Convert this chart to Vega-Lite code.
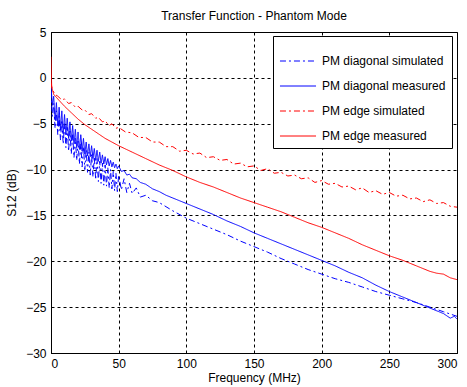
{
  "$schema": "https://vega.github.io/schema/vega-lite/v6.json",
  "width": 406,
  "height": 321,
  "autosize": {"type": "none"},
  "padding": {"left": 51, "top": 32, "right": 10, "bottom": 34},
  "background": "white",
  "title": {"text": "Transfer Function - Phantom Mode", "fontSize": 12, "fontWeight": "normal", "font": "Liberation Sans", "color": "black", "offset": 3, "anchor": "middle"},
  "datasets": {
    "dsim": [
      {"f":0,"v":-1.5},{"f":1,"v":-4.2},{"f":2,"v":-2.8},{"f":3,"v":-5.5},{"f":4,"v":-3.6},{"f":5,"v":-6.2},{"f":6,"v":-4.2},{"f":7,"v":-6.8},{"f":8,"v":-4.6},{"f":9,"v":-7.2},{"f":10,"v":-5.0},{"f":11,"v":-7.6},{"f":12,"v":-5.4},{"f":13,"v":-8.0},{"f":14,"v":-5.8},{"f":15,"v":-8.3},{"f":16,"v":-6.2},{"f":17,"v":-8.7},{"f":18,"v":-6.6},{"f":19,"v":-9.0},{"f":20,"v":-6.9},{"f":21,"v":-9.4},{"f":22,"v":-7.2},{"f":23,"v":-9.7},{"f":24,"v":-7.5},{"f":25,"v":-10.0},{"f":26,"v":-7.8},{"f":27,"v":-10.3},{"f":28,"v":-8.1},{"f":29,"v":-10.6},{"f":30,"v":-8.3},{"f":31,"v":-10.8},{"f":32,"v":-8.6},{"f":33,"v":-11.1},{"f":34,"v":-8.8},{"f":35,"v":-11.3},{"f":36,"v":-9.1},{"f":37,"v":-11.5},{"f":38,"v":-9.3},{"f":39,"v":-11.7},{"f":40,"v":-9.5},{"f":41,"v":-11.8},{"f":42,"v":-9.8},{"f":43,"v":-12.0},{"f":44,"v":-10.0},{"f":45,"v":-12.1},{"f":46,"v":-10.2},{"f":47,"v":-12.3},{"f":48,"v":-10.4},{"f":49,"v":-12.4},{"f":50,"v":-10.6},{"f":52,"v":-12.2},{"f":54,"v":-11.0},{"f":56,"v":-12.5},{"f":58,"v":-11.5},{"f":60,"v":-12.6},{"f":63,"v":-12.0},{"f":66,"v":-13.0},{"f":70,"v":-12.8},{"f":75,"v":-13.4},{"f":80,"v":-13.6},{"f":90,"v":-14.5},{"f":100,"v":-15.3},{"f":110,"v":-15.9},{"f":120,"v":-16.5},{"f":130,"v":-17.1},{"f":140,"v":-17.8},{"f":150,"v":-18.4},{"f":160,"v":-19.0},{"f":170,"v":-19.7},{"f":180,"v":-20.3},{"f":190,"v":-20.9},{"f":200,"v":-21.4},{"f":210,"v":-21.9},{"f":220,"v":-22.3},{"f":230,"v":-22.8},{"f":240,"v":-23.3},{"f":250,"v":-23.7},{"f":260,"v":-24.1},{"f":270,"v":-24.5},{"f":280,"v":-25.0},{"f":290,"v":-25.5},{"f":300,"v":-26.0}
    ],
    "dmeas": [
      {"f":0,"v":-0.8},{"f":1,"v":-3.0},{"f":2,"v":-2.0},{"f":3,"v":-4.6},{"f":4,"v":-2.7},{"f":5,"v":-5.2},{"f":6,"v":-3.2},{"f":7,"v":-5.7},{"f":8,"v":-3.6},{"f":9,"v":-6.1},{"f":10,"v":-4.0},{"f":11,"v":-6.2},{"f":12,"v":-4.4},{"f":13,"v":-6.6},{"f":14,"v":-4.8},{"f":15,"v":-6.9},{"f":16,"v":-5.2},{"f":17,"v":-7.2},{"f":18,"v":-5.6},{"f":19,"v":-7.6},{"f":20,"v":-5.9},{"f":21,"v":-7.8},{"f":22,"v":-6.2},{"f":23,"v":-8.0},{"f":24,"v":-6.6},{"f":25,"v":-8.3},{"f":26,"v":-7.0},{"f":27,"v":-8.5},{"f":28,"v":-7.2},{"f":29,"v":-8.6},{"f":30,"v":-7.4},{"f":31,"v":-8.8},{"f":32,"v":-7.7},{"f":33,"v":-9.0},{"f":34,"v":-7.9},{"f":35,"v":-9.1},{"f":36,"v":-8.1},{"f":37,"v":-9.3},{"f":38,"v":-8.4},{"f":39,"v":-9.4},{"f":40,"v":-8.6},{"f":41,"v":-9.5},{"f":42,"v":-8.8},{"f":43,"v":-9.6},{"f":44,"v":-9.0},{"f":45,"v":-9.7},{"f":46,"v":-9.2},{"f":47,"v":-9.8},{"f":48,"v":-9.4},{"f":49,"v":-9.9},{"f":50,"v":-9.6},{"f":52,"v":-10.2},{"f":54,"v":-10.1},{"f":56,"v":-10.6},{"f":58,"v":-10.5},{"f":60,"v":-10.9},{"f":63,"v":-11.0},{"f":66,"v":-11.4},{"f":70,"v":-11.6},{"f":75,"v":-12.1},{"f":80,"v":-12.4},{"f":85,"v":-12.8},{"f":90,"v":-13.1},{"f":95,"v":-13.4},{"f":100,"v":-13.7},{"f":110,"v":-14.3},{"f":120,"v":-14.9},{"f":130,"v":-15.6},{"f":140,"v":-16.2},{"f":150,"v":-16.9},{"f":160,"v":-17.5},{"f":170,"v":-18.1},{"f":180,"v":-18.7},{"f":190,"v":-19.3},{"f":200,"v":-19.9},{"f":210,"v":-20.5},{"f":220,"v":-21.2},{"f":230,"v":-21.8},{"f":240,"v":-22.6},{"f":250,"v":-23.3},{"f":260,"v":-23.9},{"f":270,"v":-24.5},{"f":280,"v":-25.1},{"f":290,"v":-25.7},{"f":295,"v":-26.2},{"f":298,"v":-26.0},{"f":300,"v":-26.3}
    ],
    "esim": [
      {"f":0,"v":-0.5},{"f":1,"v":-1.3},{"f":3,"v":-1.8},{"f":5,"v":-2.0},{"f":8,"v":-2.4},{"f":10,"v":-2.3},{"f":13,"v":-2.8},{"f":15,"v":-2.7},{"f":18,"v":-3.2},{"f":20,"v":-3.1},{"f":23,"v":-3.5},{"f":25,"v":-3.5},{"f":28,"v":-4.0},{"f":30,"v":-3.9},{"f":33,"v":-4.4},{"f":35,"v":-4.3},{"f":38,"v":-4.8},{"f":40,"v":-4.7},{"f":43,"v":-5.2},{"f":45,"v":-5.0},{"f":48,"v":-5.5},{"f":50,"v":-5.4},{"f":55,"v":-5.9},{"f":60,"v":-6.0},{"f":65,"v":-6.5},{"f":70,"v":-6.5},{"f":75,"v":-7.0},{"f":80,"v":-7.0},{"f":85,"v":-7.5},{"f":90,"v":-7.5},{"f":95,"v":-8.0},{"f":100,"v":-7.9},{"f":105,"v":-8.3},{"f":110,"v":-8.2},{"f":115,"v":-8.7},{"f":120,"v":-8.6},{"f":125,"v":-9.0},{"f":130,"v":-8.9},{"f":135,"v":-9.4},{"f":140,"v":-9.3},{"f":145,"v":-9.7},{"f":150,"v":-9.6},{"f":155,"v":-10.1},{"f":160,"v":-9.9},{"f":165,"v":-10.4},{"f":170,"v":-10.3},{"f":175,"v":-10.7},{"f":180,"v":-10.6},{"f":185,"v":-11.0},{"f":190,"v":-10.9},{"f":195,"v":-11.4},{"f":200,"v":-11.2},{"f":205,"v":-11.6},{"f":210,"v":-11.5},{"f":215,"v":-11.9},{"f":220,"v":-11.8},{"f":225,"v":-12.2},{"f":230,"v":-12.0},{"f":235,"v":-12.5},{"f":240,"v":-12.3},{"f":245,"v":-12.7},{"f":250,"v":-12.5},{"f":255,"v":-12.9},{"f":260,"v":-12.8},{"f":265,"v":-13.2},{"f":270,"v":-13.1},{"f":275,"v":-13.5},{"f":280,"v":-13.3},{"f":285,"v":-13.7},{"f":290,"v":-13.6},{"f":295,"v":-14.0},{"f":300,"v":-14.1}
    ],
    "emeas": [
      {"f":0,"v":2.3},{"f":0.5,"v":-1.0},{"f":2,"v":-1.8},{"f":5,"v":-2.3},{"f":10,"v":-3.1},{"f":15,"v":-3.8},{"f":20,"v":-4.5},{"f":25,"v":-5.1},{"f":30,"v":-5.6},{"f":35,"v":-6.1},{"f":40,"v":-6.6},{"f":45,"v":-7.0},{"f":50,"v":-7.4},{"f":60,"v":-8.1},{"f":70,"v":-8.8},{"f":80,"v":-9.5},{"f":90,"v":-10.1},{"f":100,"v":-10.8},{"f":110,"v":-11.4},{"f":120,"v":-11.9},{"f":130,"v":-12.5},{"f":140,"v":-13.1},{"f":150,"v":-13.6},{"f":160,"v":-14.1},{"f":170,"v":-14.6},{"f":180,"v":-15.2},{"f":190,"v":-15.8},{"f":200,"v":-16.3},{"f":210,"v":-16.9},{"f":220,"v":-17.5},{"f":230,"v":-18.2},{"f":240,"v":-18.8},{"f":250,"v":-19.4},{"f":260,"v":-19.9},{"f":270,"v":-20.5},{"f":280,"v":-21.1},{"f":285,"v":-21.3},{"f":290,"v":-21.4},{"f":295,"v":-21.8},{"f":300,"v":-22.0}
    ]
  },
  "encoding": {
    "x": {"field": "f", "type": "quantitative", "scale": {"domain": [0, 300], "nice": false}, "axis": {"title": "Frequency (MHz)", "values": [0, 50, 100, 150, 200, 250, 300], "grid": true, "gridDash": [3, 3], "gridColor": "black", "gridOpacity": 1, "ticks": false, "labelPadding": 5, "titlePadding": 3}},
    "y": {"field": "v", "type": "quantitative", "scale": {"domain": [-30, 5], "nice": false}, "axis": {"title": "S12 (dB)", "values": [-30, -25, -20, -15, -10, -5, 0, 5], "grid": true, "gridDash": [3, 3], "gridColor": "black", "gridOpacity": 1, "ticks": false, "labelPadding": 5, "titlePadding": 7}},
    "color": {"type": "nominal", "scale": {"domain": ["PM diagonal simulated", "PM diagonal measured", "PM edge simulated", "PM edge measured"], "range": ["#0000ff", "#0000ff", "#ff0000", "#ff0000"]}, "legend": {"title": null}},
    "strokeDash": {"type": "nominal", "scale": {"domain": ["PM diagonal simulated", "PM diagonal measured", "PM edge simulated", "PM edge measured"], "range": [[6, 3, 2, 3], [1, 0], [6, 3, 2, 3], [1, 0]]}, "legend": {"title": null}}
  },
  "layer": [
    {"data": {"name": "dsim"}, "mark": {"type": "line", "strokeWidth": 1, "clip": true}, "encoding": {"color": {"datum": "PM diagonal simulated"}, "strokeDash": {"datum": "PM diagonal simulated"}}},
    {"data": {"name": "dmeas"}, "mark": {"type": "line", "strokeWidth": 1, "clip": true}, "encoding": {"color": {"datum": "PM diagonal measured"}, "strokeDash": {"datum": "PM diagonal measured"}}},
    {"data": {"name": "esim"}, "mark": {"type": "line", "strokeWidth": 1, "clip": true}, "encoding": {"color": {"datum": "PM edge simulated"}, "strokeDash": {"datum": "PM edge simulated"}}},
    {"data": {"name": "emeas"}, "mark": {"type": "line", "strokeWidth": 1, "clip": true}, "encoding": {"color": {"datum": "PM edge measured"}, "strokeDash": {"datum": "PM edge measured"}}}
  ],
  "config": {
    "font": "Liberation Sans",
    "view": {"stroke": "black", "strokeWidth": 1},
    "axis": {"labelFontSize": 12, "labelColor": "black", "titleFontSize": 12, "titleFontWeight": "normal", "titleColor": "black", "domainColor": "black"},
    "legend": {"orient": "none", "legendX": 222, "legendY": 4, "strokeColor": "black", "fillColor": "white", "padding": 6, "symbolType": "stroke", "symbolSize": 1300, "symbolStrokeWidth": 1, "labelFontSize": 12, "labelColor": "black", "labelOffset": 5, "rowPadding": -8}
  }
}
